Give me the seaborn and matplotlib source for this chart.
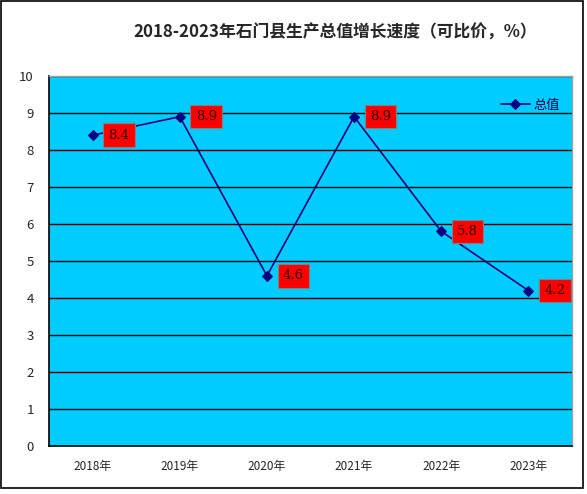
import matplotlib
matplotlib.use("Agg")
import matplotlib.pyplot as plt
import matplotlib.patches as mpatches
import seaborn as sns
import pandas as pd
import numpy as np

years = ["2018年", "2019年", "2020年", "2021年", "2022年", "2023年"]
values = [8.4, 8.9, 4.6, 8.9, 5.8, 4.2]
series_name = "总值"
title = "2018-2023年石门县生产总值增长速度（可比价，%）"

sns.set_theme(style="white")
plt.rcParams['font.family'] = ['Noto Sans CJK SC', 'DejaVu Sans']

df = pd.DataFrame({"pos": np.arange(len(years)), "value": values, "series": series_name})

fig = plt.figure(figsize=(5.87, 4.94), dpi=100)
ax = fig.add_axes([49/587, 1-446/494, (572-49)/587, (446-76)/494])
ax.set_facecolor("#00CCFF")

for y in range(1, 11):
    ax.axhline(y, color="black", lw=1.0, zorder=1)

sns.lineplot(data=df, x="pos", y="value", hue="series", palette=["#000080"],
             marker="D", markersize=5, markeredgecolor="#000080", lw=1.2, ax=ax, zorder=3)

for i, v in enumerate(values):
    ax.annotate(f"{v:.1f}", (i, v), xytext=(11.5, 0), textcoords="offset points",
                ha="left", va="center", fontsize=9.5, family=["DejaVu Serif"], color="#300000",
                bbox=dict(boxstyle="square,pad=0.4", fc="#FF0000", ec="#808080", lw=0.8), zorder=4)

ax.set_xlim(-0.5, len(years) - 0.5)
ax.set_ylim(0, 10)
ax.set_yticks(range(0, 11))
ax.set_yticklabels([str(i) for i in range(0, 11)], fontsize=9.5)
ax.set_xticks(np.arange(len(years)))
ax.set_xticklabels(years, fontsize=8.5)
ax.set_xticks(np.arange(len(years) + 1) - 0.5, minor=True)
ax.tick_params(axis="x", which="major", length=0, pad=10)
ax.tick_params(axis="x", which="minor", length=4, width=1, color="black", direction="in")
ax.tick_params(axis="y", which="major", length=4, width=1, color="black", direction="out", pad=7)
ax.set_xlabel("")
ax.set_ylabel("")

for s in ["left", "bottom"]:
    ax.spines[s].set_color("black")
    ax.spines[s].set_linewidth(1.2)
for s in ["top", "right"]:
    ax.spines[s].set_color("#A0A0A0")
    ax.spines[s].set_linewidth(1.0)

leg = ax.legend(loc="upper right", bbox_to_anchor=(1.0, 0.97), frameon=False, fontsize=9.5,
                handlelength=2.2, handletextpad=0.3)
for t in leg.get_texts():
    t.set_color("#000040")

fig.text(335/587, 1-33/494, title, ha="center", va="center", fontsize=12.1, fontweight="bold")

fig.patches.append(mpatches.Rectangle((1/587, 1-488/494), 582/587, 487/494, transform=fig.transFigure,
                                      fill=False, ec="black", lw=1.2))

fig.savefig("out.png", dpi=100)
